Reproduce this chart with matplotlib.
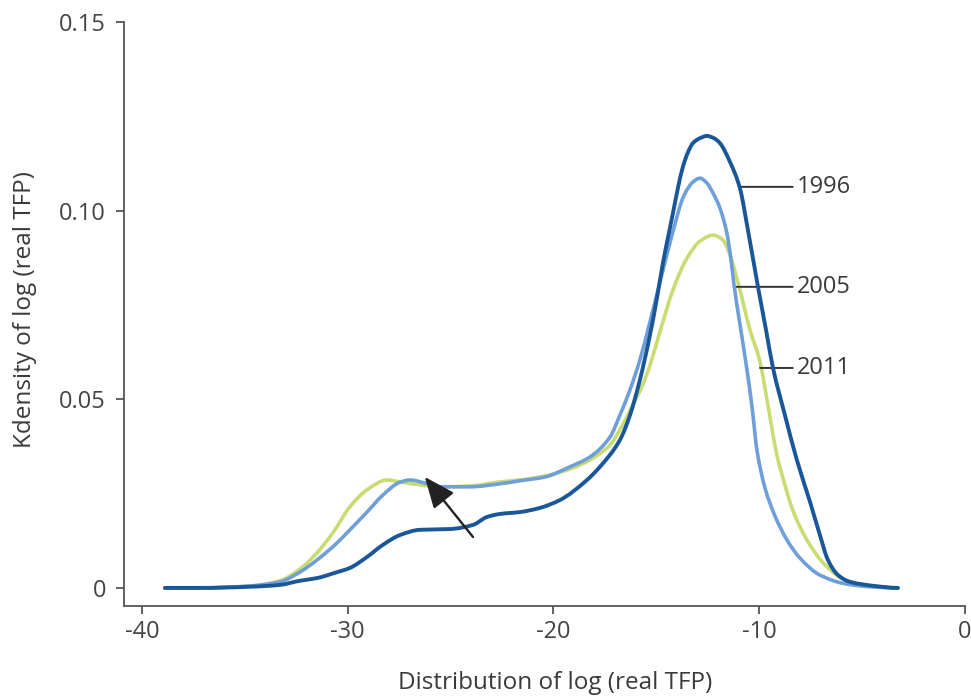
import matplotlib
matplotlib.use("Agg")
import matplotlib.pyplot as plt
from matplotlib.path import Path
from matplotlib.patches import PathPatch
import numpy as np

plt.rcParams['font.family'] = ['Open Sans', 'DejaVu Sans']
plt.rcParams['axes.unicode_minus'] = False

# ---------- data ----------
x_1996 = [-38.88, -37.18, -34.75, -33.29, -32.32, -31.49, -30.62, -29.89, -29.06, -28.29,
          -27.46, -26.49, -25.03, -23.91, -23.23, -22.60, -21.63, -20.66, -19.68, -18.37,
          -17.74, -16.77, -16.28, -15.80, -15.31, -14.97, -14.68, -14.44, -14.19, -13.95,
          -13.71, -13.46, -13.22, -12.88, -12.54, -12.20, -11.91, -11.42, -10.94, -10.55,
          -10.06, -9.67, -9.33, -8.75, -8.17, -7.53, -7.05, -6.66, -6.17, -5.59, -4.37, -3.26]
y_1996 = [0.0, 0.0, 0.0003, 0.0008, 0.0019, 0.0026, 0.0040, 0.0053, 0.0082, 0.0114,
          0.0140, 0.0154, 0.0156, 0.0167, 0.0188, 0.0196, 0.0201, 0.0212, 0.0233, 0.0286,
          0.0321, 0.0392, 0.0458, 0.0551, 0.0670, 0.0768, 0.0861, 0.0927, 0.0994, 0.1060,
          0.1116, 0.1155, 0.1179, 0.1192, 0.1198, 0.1192, 0.1179, 0.1129, 0.1060, 0.0949,
          0.0798, 0.0684, 0.0583, 0.0458, 0.0339, 0.0228, 0.0140, 0.0074, 0.0034, 0.0016,
          0.0005, 0.0]

x_2005 = [-38.88, -37.18, -34.75, -33.29, -32.32, -31.49, -30.62, -29.89, -29.06, -28.29,
          -27.46, -26.97, -26.25, -25.52, -24.06, -22.60, -21.63, -20.41, -19.20, -18.23,
          -17.25, -16.77, -16.28, -15.80, -15.31, -14.82, -14.34, -14.00, -13.75, -13.51,
          -13.22, -12.88, -12.54, -12.25, -11.91, -11.57, -11.37, -11.23, -10.94, -10.60,
          -10.35, -10.11, -9.72, -9.23, -8.65, -8.02, -7.05, -5.83, -4.62, -3.26]
y_2005 = [0.0, 0.0, 0.0005, 0.0016, 0.0042, 0.0074, 0.0114, 0.0154, 0.0201, 0.0246,
          0.0280, 0.0286, 0.0278, 0.0268, 0.0268, 0.0276, 0.0284, 0.0294, 0.0321, 0.0347,
          0.0400, 0.0458, 0.0525, 0.0604, 0.0705, 0.0811, 0.0914, 0.0983, 0.1028, 0.1055,
          0.1076, 0.1086, 0.1073, 0.1047, 0.1007, 0.0940, 0.0870, 0.0805, 0.0700, 0.0580,
          0.0480, 0.0365, 0.0265, 0.0190, 0.0127, 0.0079, 0.0034, 0.0011, 0.0003, 0.0]

x_2011 = [-38.88, -37.18, -34.75, -33.29, -32.32, -31.49, -30.72, -29.89, -29.06, -28.09,
          -27.46, -26.49, -25.52, -24.06, -22.60, -21.63, -20.41, -19.20, -18.23, -17.25,
          -16.77, -16.28, -15.65, -15.31, -14.82, -14.19, -13.51, -12.88, -12.25, -11.76,
          -11.42, -10.94, -10.45, -9.96, -9.62, -9.14, -8.75, -8.41, -7.68, -6.80,
          -5.83, -4.62, -3.26]
y_2011 = [0.0, 0.0, 0.0005, 0.0019, 0.0050, 0.0093, 0.0146, 0.0215, 0.0260, 0.0286,
          0.0281, 0.0273, 0.0268, 0.0270, 0.0281, 0.0286, 0.0297, 0.0315, 0.0339, 0.0379,
          0.0419, 0.0470, 0.0540, 0.0590, 0.0680, 0.0790, 0.0874, 0.0919, 0.0935, 0.0922,
          0.0882, 0.0790, 0.0684, 0.0599, 0.0498, 0.0352, 0.0273, 0.0212, 0.0127, 0.0061,
          0.0021, 0.0005, 0.0]

x_ticks = [-40, -30, -20, -10, 0]
y_ticks = [0, 0.05, 0.10, 0.15]
y_tick_labels = ['0', '0.05', '0.10', '0.15']

# label name, point on curve, label position
labels = [('1996', (-10.94, 0.1063), (-8.17, 0.1063)),
          ('2005', (-11.23, 0.0798), (-8.17, 0.0798)),
          ('2011', (-9.96, 0.0583), (-8.17, 0.0583))]

# arrow (tail -> head)
arrow_tail = (-23.91, 0.0135)
arrow_head = (-26.25, 0.0294)


def smooth_path(xs, ys):
    # cubic bezier through the points, pchip-style slopes (no overshoot)
    x = np.asarray(xs, float)
    y = np.asarray(ys, float)
    h = np.diff(x)
    d = np.diff(y) / h
    m = np.zeros_like(x)
    for i in range(1, len(x) - 1):
        if d[i - 1] * d[i] > 0:
            w1 = 2 * h[i] + h[i - 1]
            w2 = h[i] + 2 * h[i - 1]
            m[i] = (w1 + w2) / (w1 / d[i - 1] + w2 / d[i])
    verts = [(x[0], y[0])]
    codes = [Path.MOVETO]
    for i in range(len(x) - 1):
        verts += [(x[i] + h[i] / 3, y[i] + m[i] * h[i] / 3),
                  (x[i + 1] - h[i] / 3, y[i + 1] - m[i + 1] * h[i] / 3),
                  (x[i + 1], y[i + 1])]
        codes += [Path.CURVE4] * 3
    return Path(verts, codes)


# ---------- plot ----------
fig = plt.figure(figsize=(9.71, 6.96), dpi=100)
ax = fig.add_axes([0.1277, 0.1293, 0.8661, 0.8391])

series = [(x_2011, y_2011, '#c9dc72', 2.6, 3),
          (x_2005, y_2005, '#6f9fd8', 2.6, 4),
          (x_1996, y_1996, '#1a5799', 2.8, 5)]
for xs, ys, col, lw, z in series:
    ax.add_patch(PathPatch(smooth_path(xs, ys), fill=False, edgecolor=col, lw=lw,
                           capstyle='round', joinstyle='round', zorder=z))

for name, pt, txt in labels:
    ax.annotate(name, xy=pt, xytext=txt, fontsize=17, color='#3a3a3a',
                ha='left', va='center',
                arrowprops=dict(arrowstyle='-', color='#333333', lw=1.4,
                                shrinkA=1, shrinkB=0, relpos=(0, 0.5)))

ax.annotate('', xy=arrow_head, xytext=arrow_tail,
            arrowprops=dict(arrowstyle='-|>,head_length=0.95,head_width=0.4',
                            mutation_scale=20, color='#222222', lw=1.7,
                            shrinkA=0, shrinkB=0), zorder=6)

ax.set_xlim(-40.87, 0)
ax.set_ylim(-0.0048, 0.15)
ax.set_xticks(x_ticks)
ax.set_xticklabels([str(v) for v in x_ticks])
ax.set_yticks(y_ticks)
ax.set_yticklabels(y_tick_labels)

for side in ['top', 'right']:
    ax.spines[side].set_visible(False)
for side in ['left', 'bottom']:
    ax.spines[side].set_color('#555555')
    ax.spines[side].set_linewidth(1.3)

ax.tick_params(axis='x', length=6, width=1.3, color='#555555', labelsize=17,
               labelcolor='#444444', pad=4)
ax.tick_params(axis='y', length=6, width=1.3, color='#555555', labelsize=17,
               labelcolor='#444444', pad=7)

fig.text(555 / 971, 1 - 683 / 696, 'Distribution of log (real TFP)', fontsize=17.5,
         color='#3a3a3a', ha='center', va='center')
fig.text(25 / 971, 1 - 310 / 696, 'Kdensity of log (real TFP)', fontsize=17.5,
         color='#3a3a3a', ha='center', va='center', rotation=90)

fig.savefig('out.png', dpi=100)
